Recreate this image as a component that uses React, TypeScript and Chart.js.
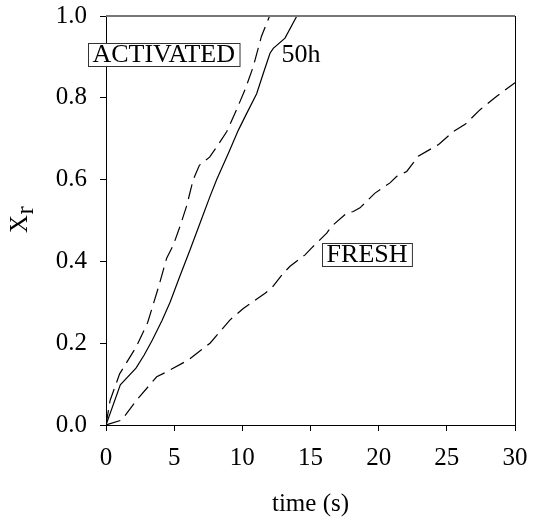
import { useEffect, useRef } from 'react';
import { Chart, registerables } from 'chart.js';

Chart.register(...registerables);

const FONT = '"Liberation Serif", "Times New Roman", serif';

// Activated sample (dashed, upper curve)
const activatedTime = [0, 0.3, 1.0, 2.2, 3.05, 3.85, 4.45, 4.94, 5.43, 5.91, 6.4, 6.85, 7.6, 8.12, 8.85, 9.46, 10.2, 10.8, 11.4, 12.0];
const activatedXr = [0, 0.06, 0.125, 0.19, 0.25, 0.337, 0.408, 0.44, 0.486, 0.535, 0.6, 0.635, 0.655, 0.68, 0.717, 0.762, 0.82, 0.876, 0.95, 1.0];

// Activated 50 h sample (solid)
const h50Time = [0, 1.05, 2.2, 2.8, 3.4, 4.1, 4.7, 5.43, 6.16, 6.9, 7.63, 8.12, 8.97, 9.71, 10.2, 11.05, 11.54, 12.03, 12.27, 13.13, 14.0];
const h50Xr = [0, 0.098, 0.139, 0.171, 0.208, 0.255, 0.3, 0.365, 0.428, 0.494, 0.559, 0.6, 0.664, 0.721, 0.754, 0.81, 0.86, 0.909, 0.921, 0.946, 1.0];

// Fresh sample (dashed, lower curve)
const freshTime = [0, 1.15, 2.25, 3.72, 4.45, 6.04, 7.63, 9.1, 10.07, 11.67, 12.16, 13.0, 13.5, 14.6, 15.09, 16.19, 16.55, 17.66, 18.14, 18.63, 19.24, 19.73, 20.83, 21.33, 22.06, 22.9, 24.4, 25.5, 26.34, 27.44, 28.66, 30.0];
const freshXr = [0, 0.012, 0.061, 0.118, 0.13, 0.159, 0.2, 0.257, 0.285, 0.322, 0.335, 0.371, 0.388, 0.416, 0.433, 0.469, 0.486, 0.518, 0.522, 0.531, 0.551, 0.567, 0.592, 0.608, 0.62, 0.657, 0.686, 0.718, 0.735, 0.771, 0.804, 0.837];

const xTicks = [0, 5, 10, 15, 20, 25, 30];
const yTicks = [0, 0.2, 0.4, 0.6, 0.8, 1.0];

// Text annotations: [text, x, y, boxed]
const notes: [string, number, number, boolean][] = [
  ['ACTIVATED', 4.23, 0.907, true],
  ['50h', 12.88, 0.907, false],
  ['FRESH', 19.15, 0.417, true],
];

const pts = (xs: number[], ys: number[]) => xs.map((x, i) => ({ x, y: ys[i] }));

const framePlugin = {
  id: 'frameAndNotes',
  afterDatasetsDraw(chart: any) {
    const { ctx, chartArea: a, scales } = chart;
    const sx = scales.x;
    const sy = scales.y;
    ctx.save();
    // top frame line
    ctx.strokeStyle = '#777777';
    ctx.lineWidth = 2;
    ctx.beginPath();
    ctx.moveTo(a.left, a.top);
    ctx.lineTo(a.right, a.top);
    ctx.stroke();
    // right frame line
    ctx.strokeStyle = '#000000';
    ctx.lineWidth = 1;
    ctx.beginPath();
    ctx.moveTo(Math.round(a.right) + 0.5, a.top);
    ctx.lineTo(Math.round(a.right) + 0.5, a.bottom);
    ctx.stroke();

    // annotations
    ctx.font = `26px ${FONT}`;
    ctx.textBaseline = 'middle';
    for (const [text, dx, dy, boxed] of notes) {
      const cx = sx.getPixelForValue(dx);
      const cy = sy.getPixelForValue(dy);
      const w = ctx.measureText(text).width;
      if (boxed) {
        const bw = w + 9;
        const bh = 23;
        const bx = Math.round(cx - bw / 2) + 0.5;
        const by = Math.round(cy - bh / 2) + 0.5;
        ctx.fillStyle = '#ffffff';
        ctx.fillRect(bx, by, bw, bh);
        ctx.strokeStyle = '#333333';
        ctx.lineWidth = 1;
        ctx.strokeRect(bx, by, bw, bh);
        ctx.fillStyle = '#000000';
        ctx.textAlign = 'center';
        ctx.fillText(text, cx, cy + 1);
      } else {
        ctx.fillStyle = '#000000';
        ctx.textAlign = 'left';
        ctx.fillText(text, cx, cy + 1);
      }
    }

    // y-axis title: X with subscript r
    ctx.fillStyle = '#000000';
    ctx.textAlign = 'left';
    ctx.textBaseline = 'alphabetic';
    ctx.translate(27, 233);
    ctx.rotate(-Math.PI / 2);
    ctx.font = `25px ${FONT}`;
    ctx.fillText('X', 0, 0);
    const xw = ctx.measureText('X').width;
    ctx.fillText('r', xw + 0.5, 6);
    ctx.restore();
  },
};

export default function App() {
  const ref = useRef<HTMLCanvasElement>(null);

  useEffect(() => {
    if (!ref.current) return;
    const line = (label: string, xs: number[], ys: number[], dash: number[]) => ({
      label,
      data: pts(xs, ys),
      borderColor: '#000000',
      borderWidth: 1.2,
      borderDash: dash,
      pointRadius: 0,
      fill: false,
      tension: 0,
    });
    const chart = new Chart(ref.current, {
      type: 'line',
      data: {
        datasets: [
          line('ACTIVATED', activatedTime, activatedXr, [15, 7]),
          line('50h', h50Time, h50Xr, []),
          line('FRESH', freshTime, freshXr, [15, 7]),
        ],
      },
      options: {
        animation: false,
        responsive: false,
        events: [],
        layout: { padding: { left: 0, right: 18, top: 16, bottom: 0 } },
        plugins: { legend: { display: false }, tooltip: { enabled: false } },
        scales: {
          x: {
            type: 'linear',
            min: 0,
            max: 30,
            afterBuildTicks: (s: any) => {
              s.ticks = xTicks.map((v) => ({ value: v }));
            },
            afterFit: (s: any) => {
              s.height = 94;
              s.paddingLeft = 0;
              s.paddingRight = 0;
            },
            ticks: {
              color: '#000000',
              font: { family: FONT, size: 25 },
              padding: 12,
              maxRotation: 0,
              autoSkip: false,
              callback: (v: any) => String(v),
            },
            grid: { display: true, drawOnChartArea: false, drawTicks: true, tickLength: 6, color: '#000000' },
            border: { display: true, color: '#000000', width: 1 },
            title: {
              display: true,
              text: 'time (s)',
              color: '#000000',
              font: { family: FONT, size: 25 },
              padding: { top: 0, bottom: 0 },
            },
          },
          y: {
            type: 'linear',
            min: 0,
            max: 1,
            afterBuildTicks: (s: any) => {
              s.ticks = yTicks.map((v) => ({ value: v }));
            },
            afterFit: (s: any) => {
              s.width = 106;
              s.paddingTop = 0;
              s.paddingBottom = 0;
            },
            ticks: {
              color: '#000000',
              font: { family: FONT, size: 25 },
              padding: 13,
              autoSkip: false,
              callback: (v: any) => Number(v).toFixed(1),
            },
            grid: { display: true, drawOnChartArea: false, drawTicks: true, tickLength: 6, color: '#000000' },
            border: { display: true, color: '#000000', width: 1 },
          },
        },
      },
      plugins: [framePlugin],
    });
    return () => chart.destroy();
  }, []);

  return (
    <div style={{ position: 'fixed', left: 0, top: 0, width: 533, height: 519, background: '#ffffff' }}>
      <canvas ref={ref} width={533} height={519} style={{ display: 'block' }} />
    </div>
  );
}
